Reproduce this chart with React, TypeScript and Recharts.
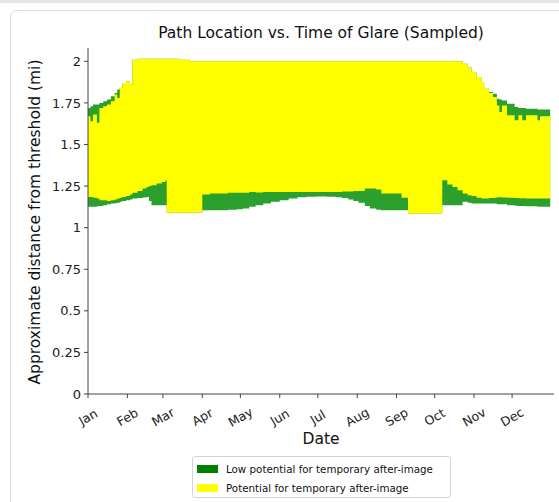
import React from 'react'
import { ComposedChart, Area, XAxis, YAxis } from 'recharts'

// sampled day-of-year (0 = Jan 1)
const days = [
  0, 2, 4, 7, 9, 12, 15, 18, 21, 23, 25, 27, 30, 33, 35, 39, 43, 46, 48, 50, 54, 58, 61, 62, 72, 80,
  90, 96, 103, 110, 117, 122, 127, 132, 138, 144, 151, 158, 165, 172, 180, 188, 195, 200, 205, 209,
  213, 218, 222, 227, 231, 240, 247, 252, 279, 283, 287, 291, 295, 299, 302, 306, 310, 312, 316,
  319, 322, 324, 326, 330, 336, 339, 342, 345, 354, 356, 364,
]

// bottom of all glare (mi)
const greenLow = [
  1.125, 1.125, 1.125, 1.128, 1.13, 1.135, 1.14, 1.145, 1.147, 1.15, 1.155, 1.16, 1.165, 1.17, 1.175,
  1.178, 1.182, 1.185, 1.16, 1.135, 1.135, 1.135, 1.135, 1.09, 1.09, 1.09,
  1.105, 1.105, 1.105, 1.107, 1.11, 1.115, 1.125, 1.135, 1.145, 1.155, 1.165, 1.175, 1.183, 1.186,
  1.187, 1.186, 1.183, 1.178, 1.17, 1.16,
  1.15, 1.13, 1.115, 1.108, 1.105, 1.105, 1.105, 1.085, 1.135, 1.135, 1.135, 1.135, 1.155, 1.15,
  1.145, 1.145, 1.145, 1.145, 1.145,
  1.145, 1.14, 1.14, 1.14, 1.135, 1.132, 1.13, 1.13, 1.128, 1.125, 1.125, 1.125,
]

// bottom of yellow band
const yellowLow = [
  1.185, 1.185, 1.18, 1.175, 1.165, 1.165, 1.16, 1.165, 1.17, 1.175, 1.18, 1.185, 1.19, 1.2, 1.21,
  1.22, 1.235, 1.245, 1.25, 1.255, 1.265, 1.275, 1.285, 1.09, 1.09, 1.09,
  1.2, 1.205, 1.205, 1.21, 1.21, 1.21, 1.215, 1.212, 1.215, 1.215, 1.215, 1.215, 1.215, 1.215,
  1.215, 1.215, 1.215, 1.217, 1.218, 1.22,
  1.22, 1.235, 1.235, 1.23, 1.205, 1.205, 1.18, 1.085, 1.285, 1.26, 1.245, 1.225, 1.205, 1.195,
  1.19, 1.18, 1.175, 1.175, 1.178,
  1.18, 1.183, 1.183, 1.182, 1.18, 1.178, 1.177, 1.177, 1.176, 1.175, 1.175, 1.173,
]

// top of yellow band
const yellowHigh = [
  1.67, 1.64, 1.68, 1.63, 1.72, 1.73, 1.74, 1.76, 1.8, 1.78, 1.84, 1.87, 1.88, 1.86, 2.01,
  2.015, 2.015, 2.015, 2.015, 2.015, 2.015, 2.015, 2.015, 2.015, 2.01, 2.0,
  2.0, 2.0, 2.0, 2.0, 2.0, 2.0, 2.0, 2.0, 2.0, 2.0, 2.0, 2.0, 2.0, 2.0,
  2.0, 2.0, 2.0, 2.0, 2.0, 2.0,
  2.0, 2.0, 2.0, 2.0, 2.0, 2.0, 2.0, 2.0, 2.0, 2.0, 2.0, 2.0, 1.985, 1.965,
  1.935, 1.905, 1.875, 1.835, 1.81,
  1.785, 1.735, 1.695, 1.735, 1.675, 1.645, 1.675, 1.645, 1.675, 1.645, 1.67, 1.665,
]

// top of all glare
const greenHigh = [
  1.72, 1.73, 1.74, 1.74, 1.75, 1.76, 1.77, 1.79, 1.81, 1.83, 1.84, 1.87, 1.88, 1.86, 2.01,
  2.015, 2.015, 2.015, 2.015, 2.015, 2.015, 2.015, 2.015, 2.015, 2.01, 2.0,
  2.0, 2.0, 2.0, 2.0, 2.0, 2.0, 2.0, 2.0, 2.0, 2.0, 2.0, 2.0, 2.0, 2.0,
  2.0, 2.0, 2.0, 2.0, 2.0, 2.0,
  2.0, 2.0, 2.0, 2.0, 2.0, 2.0, 2.0, 2.0, 2.0, 2.0, 2.0, 2.0, 1.985, 1.965,
  1.935, 1.905, 1.875, 1.835, 1.815,
  1.805, 1.775, 1.77, 1.765, 1.745, 1.725, 1.72, 1.72, 1.715, 1.71, 1.71, 1.705,
]

const monthDays = [0, 31, 59, 90, 120, 151, 181, 212, 243, 273, 304, 334]
const monthLabels = ['Jan', 'Feb', 'Mar', 'Apr', 'May', 'Jun', 'Jul', 'Aug', 'Sep', 'Oct', 'Nov', 'Dec']
const yTicks = [0, 0.25, 0.5, 0.75, 1, 1.25, 1.5, 1.75, 2]
const yTickLabels = ['0', '0.25', '0.5', '0.75', '1', '1.25', '1.5', '1.75', '2']

const rows = days.map((d, i) => ({
  day: d,
  low: [greenLow[i], greenHigh[i]],
  glare: [yellowLow[i], yellowHigh[i]],
}))

const font = '"DejaVu Sans", sans-serif'
const axisColor = '#444'

function MonthTick(props: any) {
  const { x, y, payload } = props
  const idx = monthDays.indexOf(payload.value)
  return (
    <g transform={`translate(${x},${y + 17})`}>
      <text
        transform="rotate(-30)"
        textAnchor="middle"
        dominantBaseline="central"
        fontSize={12.5}
        fontFamily={font}
        fill="#222"
      >
        {monthLabels[idx]}
      </text>
    </g>
  )
}

export default function App() {
  return (
    <div style={{ position: 'relative', width: 559, height: 502, overflow: 'hidden', background: '#fff', fontFamily: font }}>
      <style>{'body{margin:0}'}</style>
      <div style={{ position: 'absolute', left: 0, top: 0, width: 559, height: 3, background: '#e6e6e6' }} />
      <div
        style={{
          position: 'absolute',
          left: 10,
          top: 10,
          width: 600,
          height: 560,
          border: '1px solid #dedede',
          borderRadius: 7,
        }}
      />
      <div style={{ position: 'absolute', left: 0, top: 0 }}>
        <ComposedChart width={559} height={502} data={rows} margin={{ top: 48, right: 5, bottom: 0, left: 0 }}>
          <XAxis
            dataKey="day"
            type="number"
            domain={[0, 367]}
            ticks={monthDays}
            interval={0}
            height={108}
            tick={<MonthTick />}
            tickSize={4}
            tickMargin={2}
            axisLine={{ stroke: axisColor }}
            tickLine={{ stroke: axisColor }}
            allowDataOverflow
          />
          <YAxis
            type="number"
            domain={[0, 2.08]}
            ticks={yTicks}
            interval={0}
            width={88}
            tickFormatter={(v: number) => yTickLabels[yTicks.indexOf(v)]}
            tick={{ fontSize: 13, fill: '#222', fontFamily: font }}
            tickSize={4}
            tickMargin={3}
            axisLine={{ stroke: axisColor }}
            tickLine={{ stroke: axisColor }}
            allowDataOverflow
          />
          <Area
            dataKey="low"
            type="stepAfter"
            stroke="none"
            fill="#2ca02c"
            fillOpacity={1}
            isAnimationActive={false}
          />
          <Area
            dataKey="glare"
            type="stepAfter"
            stroke="none"
            fill="#ffff00"
            fillOpacity={1}
            isAnimationActive={false}
          />
        </ComposedChart>
      </div>
      <div style={{ position: 'absolute', left: 88, width: 466, top: 24, textAlign: 'center', fontSize: 15.5, color: '#111' }}>
        Path Location vs. Time of Glare (Sampled)
      </div>
      <div
        style={{
          position: 'absolute',
          left: 35,
          top: 222,
          transform: 'translate(-50%, -50%) rotate(-90deg)',
          whiteSpace: 'nowrap',
          fontSize: 15.5,
          color: '#111',
        }}
      >
        Approximate distance from threshold (mi)
      </div>
      <div style={{ position: 'absolute', left: 88, width: 466, top: 430, textAlign: 'center', fontSize: 15.5, color: '#111' }}>
        Date
      </div>
      <div
        style={{
          position: 'absolute',
          left: 192,
          top: 456,
          width: 257,
          height: 40,
          border: '1px solid #d4d4d4',
          borderRadius: 3,
          background: '#fff',
          fontSize: 10.3,
          color: '#111',
        }}
      >
        {[
          { c: '#008000', t: 'Low potential for temporary after-image' },
          { c: '#ffff00', t: 'Potential for temporary after-image' },
        ].map((e, i) => (
          <div key={i} style={{ position: 'absolute', left: 4, top: 5 + i * 19, display: 'flex', alignItems: 'center', height: 13 }}>
            <div style={{ width: 21, height: 8, background: e.c, marginRight: 8 }} />
            <span style={{ whiteSpace: 'nowrap' }}>{e.t}</span>
          </div>
        ))}
      </div>
    </div>
  )
}
